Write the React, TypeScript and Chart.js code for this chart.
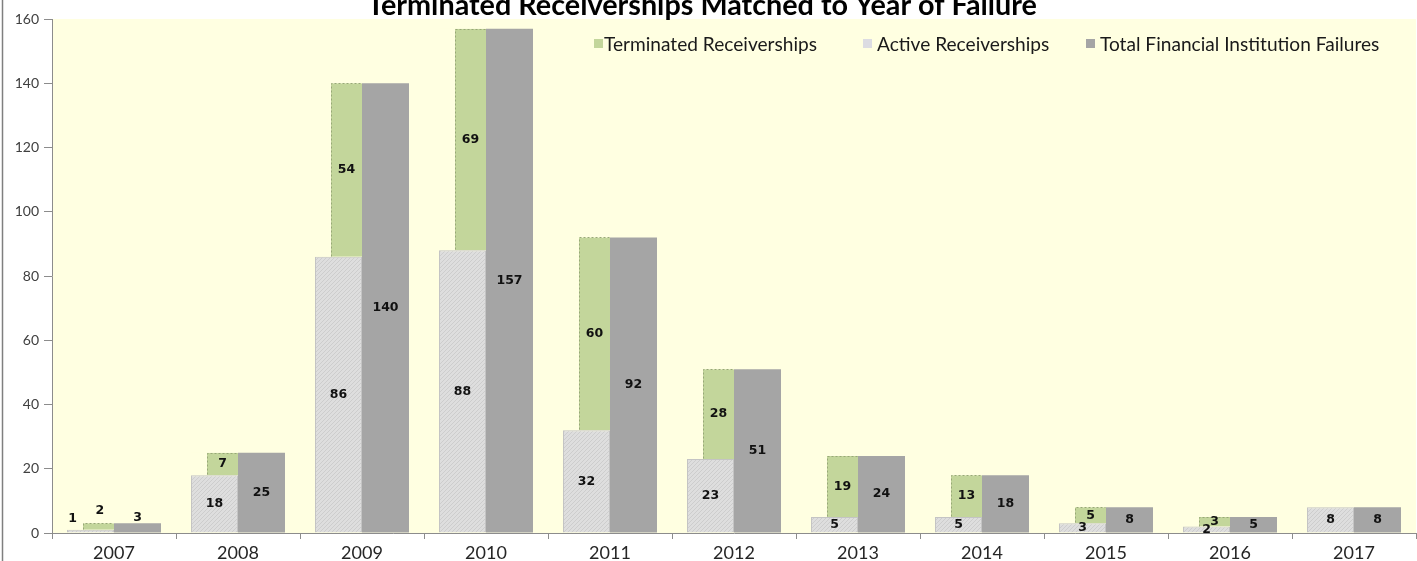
import React, { useEffect, useRef } from "react";
import { Chart, registerables } from "chart.js";

Chart.register(...registerables);

const years = ["2007", "2008", "2009", "2010", "2011", "2012", "2013", "2014", "2015", "2016", "2017"];
const activeReceiverships = [1, 18, 86, 88, 32, 23, 5, 5, 3, 2, 8];
const terminatedReceiverships = [2, 7, 54, 69, 60, 28, 19, 13, 5, 3, 0];
const totalFailures = [3, 25, 140, 157, 92, 51, 24, 18, 8, 5, 8];
const yTicks = [0, 20, 40, 60, 80, 100, 120, 140, 160];

const titleText = "Terminated Receiverships Matched to Year of Failure";
const legendItems = [
  { label: "Terminated Receiverships", color: "#c3d69b", x: 594, tx: 604 },
  { label: "Active Receiverships", color: "#dcdce2", x: 863, tx: 877 },
  { label: "Total Financial Institution Failures", color: "#a5a5a5", x: 1086, tx: 1100 },
];

const FONT = "Lato, 'Open Sans', sans-serif";
const PLOT_BG = "#ffffe1";
const TERM_INSET = 16;

function makeHatch(): CanvasPattern | string {
  const c = document.createElement("canvas");
  c.width = 4;
  c.height = 4;
  const ctx = c.getContext("2d");
  if (!ctx) return "#d9d9d9";
  ctx.fillStyle = "#dedede";
  ctx.fillRect(0, 0, 4, 4);
  ctx.fillStyle = "#cdcdcd";
  ctx.fillRect(0, 3, 1, 1);
  ctx.fillRect(1, 2, 1, 1);
  ctx.fillRect(2, 1, 1, 1);
  ctx.fillRect(3, 0, 1, 1);
  const p = ctx.createPattern(c, "repeat");
  return p || "#d9d9d9";
}

const bgPlugin = {
  id: "bgPlugin",
  beforeDraw(chart: any) {
    const { ctx, chartArea } = chart;
    ctx.save();
    ctx.fillStyle = "#ffffff";
    ctx.fillRect(0, 0, chart.width, chart.height);
    ctx.fillStyle = PLOT_BG;
    ctx.fillRect(chartArea.left, chartArea.top, chartArea.right - chartArea.left, chartArea.bottom - chartArea.top);
    ctx.strokeStyle = "#7f7f7f";
    ctx.lineWidth = 1.5;
    ctx.beginPath();
    ctx.moveTo(2.5, 0);
    ctx.lineTo(2.5, chart.height);
    ctx.stroke();
    ctx.restore();
  },
  afterDraw(chart: any) {
    const { ctx } = chart;
    ctx.save();
    ctx.font = `bold 20px ${FONT}`;
    const tw = ctx.measureText(titleText).width;
    const tSize = (20 * 670) / tw;
    ctx.fillStyle = "#000000";
    ctx.font = `bold ${tSize.toFixed(2)}px ${FONT}`;
    ctx.textAlign = "center";
    ctx.textBaseline = "alphabetic";
    ctx.fillText(titleText, 702, 14.5);
    ctx.font = `14px ${FONT}`;
    const lw = ctx.measureText(legendItems[0].label).width;
    const lSize = (14 * 213) / lw;
    ctx.font = `${lSize.toFixed(2)}px ${FONT}`;
    ctx.textAlign = "left";
    ctx.textBaseline = "middle";
    legendItems.forEach((it) => {
      ctx.fillStyle = it.color;
      ctx.fillRect(it.x, 39, 9, 9);
      ctx.fillStyle = "#1a1a1a";
      ctx.fillText(it.label, it.tx, 44.5);
    });
    ctx.restore();
  },
};

const labelPlugin = {
  id: "labelPlugin",
  afterDatasetsDraw(chart: any) {
    const { ctx } = chart;
    const yScale = chart.scales.y;
    ctx.save();
    const termMeta = chart.getDatasetMeta(1);
    ctx.strokeStyle = "#98a878";
    ctx.lineWidth = 1;
    ctx.setLineDash([2, 2]);
    termMeta.data.forEach((bar: any, i: number) => {
      if (!terminatedReceiverships[i]) return;
      const { x, y, base, width } = bar.getProps(["x", "y", "base", "width"], true);
      const l = Math.round(x - width / 2 + TERM_INSET) + 0.5;
      const r = Math.round(x + width / 2) - 0.5;
      const t = Math.round(y) + 0.5;
      const b = Math.round(base) - 0.5;
      ctx.beginPath();
      ctx.moveTo(l, b);
      ctx.lineTo(l, t);
      ctx.lineTo(r, t);
      ctx.stroke();
    });
    ctx.setLineDash([]);
    ctx.font = `bold 12.5px 'DejaVu Sans', Verdana, sans-serif`;
    ctx.textAlign = "center";
    ctx.textBaseline = "middle";
    ctx.fillStyle = "#111111";
    [0, 1, 2].forEach((di) => {
      const meta = chart.getDatasetMeta(di);
      const values = chart.data.datasets[di].data as number[];
      meta.data.forEach((bar: any, i: number) => {
        const v = values[i];
        if (!v) return;
        const { x, y, base, width } = bar.getProps(["x", "y", "base", "width"], true);
        const stackPx = yScale.getPixelForValue(0) - yScale.getPixelForValue(totalFailures[i]);
        let lx = di === 1 ? x + TERM_INSET / 2 : x;
        let ly = (y + base) / 2;
        if (stackPx < 12) {
          if (di === 0) {
            lx = x - width * 0.38;
            ly = y - 11;
          } else if (di === 1) {
            lx = x + width * 0.2;
            ly = y - 13;
          } else {
            ly = y - 6;
          }
        }
        ctx.fillText(String(v), lx, ly);
      });
    });
    ctx.restore();
  },
};

export default function App() {
  const ref = useRef<HTMLCanvasElement | null>(null);
  useEffect(() => {
    if (!ref.current) return;
    const hatch = makeHatch();
    const chart = new Chart(ref.current, {
      type: "bar",
      data: {
        labels: years,
        datasets: [
          {
            label: "Active Receiverships",
            data: activeReceiverships,
            backgroundColor: hatch as any,
            borderColor: "#c4c4c4",
            borderWidth: 1,
            stack: "receiverships",
          },
          {
            label: "Terminated Receiverships",
            data: terminatedReceiverships,
            backgroundColor: "#c3d69b",
            borderColor: PLOT_BG,
            borderWidth: { left: TERM_INSET, top: 0, right: 0, bottom: 0 },
            borderSkipped: false,
            inflateAmount: 0,
            stack: "receiverships",
          },
          {
            label: "Total Financial Institution Failures",
            data: totalFailures,
            backgroundColor: "#a5a5a5",
            borderWidth: 0,
            stack: "total",
          },
        ],
      },
      options: {
        animation: false,
        responsive: false,
        maintainAspectRatio: false,
        layout: { padding: { top: 19, right: 1, left: 0, bottom: 0 } },
        datasets: { bar: { categoryPercentage: 0.758, barPercentage: 1 } },
        plugins: {
          legend: { display: false },
          title: { display: false },
          tooltip: { enabled: false },
        },
        scales: {
          x: {
            stacked: true,
            offset: true,
            grid: {
              offset: true,
              drawOnChartArea: false,
              drawTicks: true,
              tickLength: 6,
              color: "#8c8c8c",
            },
            border: { display: true, color: "#8c8c8c", width: 1 },
            ticks: { color: "#262626", font: { family: FONT, size: 18 }, padding: 3, maxRotation: 0 },
            afterFit(scale: any) {
              scale.height = 28;
            },
          },
          y: {
            stacked: true,
            min: 0,
            max: 160,
            afterBuildTicks(scale: any) {
              scale.ticks = yTicks.map((v) => ({ value: v }));
            },
            grid: {
              drawOnChartArea: false,
              drawTicks: true,
              tickLength: 8,
              color: "#8c8c8c",
            },
            border: { display: true, color: "#8c8c8c", width: 1 },
            ticks: { color: "#404040", font: { family: FONT, size: 14 }, padding: 5 },
            afterFit(scale: any) {
              scale.width = 52;
            },
          },
        },
      },
      plugins: [bgPlugin, labelPlugin],
    });
    return () => chart.destroy();
  }, []);
  return (
    <div style={{ position: "fixed", left: 0, top: 0, width: 1417, height: 561, background: "#fff" }}>
      <canvas ref={ref} width={1417} height={561} style={{ display: "block", width: 1417, height: 561 }} />
    </div>
  );
}
